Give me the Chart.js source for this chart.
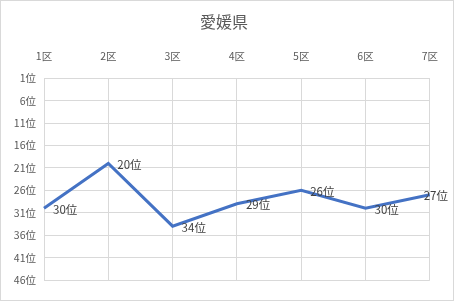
<!DOCTYPE html>
<html>
<head>
<meta charset="utf-8">
<script src="https://cdn.jsdelivr.net/npm/chart.js@4"></script>
<style>
  html, body { margin: 0; padding: 0; background: #fff; }
  #wrap { width: 454px; height: 301px; position: relative; }
</style>
</head>
<body>
<div id="wrap"><canvas id="rank-chart"></canvas></div>
<script>
// chart data
const districts = ['1区', '2区', '3区', '4区', '5区', '6区', '7区'];
const ranks = [30, 20, 34, 29, 26, 30, 27];
const rankTicks = [1, 6, 11, 16, 21, 26, 31, 36, 41, 46];
const chartTitle = '愛媛県';

const FONT = '"Noto Sans CJK JP", "Noto Sans", sans-serif';

// draws the "NN位" labels right of each point, pulled back in if it would run off
const pointLabels = {
  id: 'pointLabels',
  afterDatasetsDraw(chart) {
    const ctx = chart.ctx;
    const meta = chart.getDatasetMeta(0);
    ctx.save();
    ctx.font = '11.5px ' + FONT;
    ctx.fillStyle = '#404040';
    ctx.textAlign = 'left';
    ctx.textBaseline = 'middle';
    meta.data.forEach(function(pt, i) {
      const txt = ranks[i] + '位';
      const w = ctx.measureText(txt).width;
      let x = pt.x + 9;
      if (x + w > chart.width - 6) x = chart.width - 6 - w;
      ctx.fillText(txt, x, pt.y + 1);
    });
    ctx.restore();
  }
};

// thin frame around the whole chart
const frame = {
  id: 'frame',
  beforeDraw(chart) {
    const ctx = chart.ctx;
    ctx.save();
    ctx.strokeStyle = '#d9d9d9';
    ctx.lineWidth = 1;
    ctx.strokeRect(0.5, 0.5, chart.width - 1, chart.height - 1);
    ctx.restore();
  }
};

new Chart(document.getElementById('rank-chart'), {
  type: 'line',
  data: {
    labels: districts,
    datasets: [{
      data: ranks,
      borderColor: '#4472C4',
      backgroundColor: '#4472C4',
      borderWidth: 3,
      pointRadius: 0,
      tension: 0
    }]
  },
  options: {
    responsive: true,
    maintainAspectRatio: false,
    animation: false,
    layout: { padding: { left: 10, right: 16, top: 0, bottom: 21 } },
    plugins: {
      legend: { display: false },
      tooltip: { enabled: false },
      title: {
        display: true,
        text: chartTitle,
        color: '#595959',
        font: { family: FONT, size: 16, weight: 'normal' },
        padding: { top: 12, bottom: 6 }
      }
    },
    scales: {
      x: {
        position: 'top',
        offset: false,
        grid: { color: '#d9d9d9', drawTicks: false },
        border: { display: false },
        ticks: {
          color: '#595959',
          font: { family: FONT, size: 10.5 },
          padding: 16,
          maxRotation: 0
        },
        afterFit(scale) { scale.height = 41; }
      },
      y: {
        reverse: true,
        min: 1,
        max: 46,
        grid: { color: '#d9d9d9', drawTicks: false },
        border: { display: false },
        afterBuildTicks(scale) {
          scale.ticks = rankTicks.map(v => ({ value: v }));
        },
        ticks: {
          color: '#595959',
          font: { family: FONT, size: 10.5 },
          padding: 8,
          callback: v => v + '位'
        },
        afterFit(scale) { scale.width = 34; }
      }
    }
  },
  plugins: [frame, pointLabels]
});
</script>
</body>
</html>
